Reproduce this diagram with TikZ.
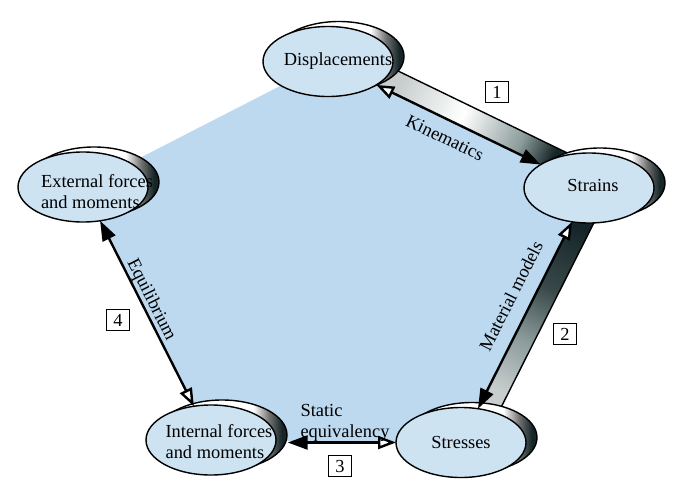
\documentclass[tikz,border=0pt]{standalone}
\usepackage{fontspec}
\setmainfont{Liberation Serif}
\usetikzlibrary{arrows.meta,shapes.geometric}
\definecolor{pentblue}{RGB}{189,217,240}
\definecolor{ellblue}{RGB}{205,227,242}
\definecolor{deepteal}{RGB}{22,38,40}
\definecolor{midteal}{RGB}{140,155,155}
\definecolor{paleteal}{RGB}{200,206,206}
\pgfdeclarehorizontalshading{bandone}{100bp}{color(0bp)=(paleteal); color(38bp)=(paleteal);
  color(50bp)=(white); color(61bp)=(midteal); color(67bp)=(deepteal); color(100bp)=(deepteal)}
\pgfdeclarehorizontalshading{bandtwo}{100bp}{color(0bp)=(deepteal); color(32bp)=(deepteal);
  color(44bp)=(deepteal!70!midteal); color(54bp)=(midteal); color(64bp)=(paleteal); color(100bp)=(paleteal!70!white)}
\pgfdeclarehorizontalshading{rimshade}{100bp}{color(0bp)=(white); color(62bp)=(white);
  color(68bp)=(black!55); color(73bp)=(deepteal); color(100bp)=(deepteal)}

\begin{document}
\begin{tikzpicture}[x=0.5pt,y=-0.5pt,font=\fontsize{9.2}{10.5}\selectfont,
  ell/.style={ellipse,draw,line width=.7pt,fill=ellblue,minimum width=65pt,minimum height=35pt,inner sep=0pt,outer sep=0pt},
  rim/.style={ellipse,draw,line width=.7pt,shade,shading=rimshade,minimum width=65pt,minimum height=35pt,inner sep=0pt},
  rel/.style={line width=1.2pt,{Triangle[open,fill=white,length=9pt,width=6.5pt]}-{Triangle[length=10pt,width=7pt]}},
  numbox/.style={draw,line width=.5pt,minimum width=11.5pt,minimum height=10.5pt,inner sep=0pt}]
\useasboundingbox (0,0) rectangle (685,493);
% centres of the five ellipses
\coordinate (pd) at (328,61.5);
\coordinate (ps) at (589,188);
\coordinate (pr) at (461,442.5);
\coordinate (pi) at (211,440);
\coordinate (pe) at (83,187);
% blue pentagon
\fill[pentblue] (pd) -- (ps) -- (pr) -- (pi) -- (pe) -- cycle;
% shaded bands behind arrows 1 and 2
\begin{scope}[transform canvas={shift={(pd)},rotate=-25.85}]
  \shade[shading=bandone] (0pt,0pt) rectangle (145pt,11pt);
  \draw[line width=.7pt] (0pt,11pt) -- (145pt,11pt);
\end{scope}
\begin{scope}[transform canvas={shift={(ps)},rotate=-116.7}]
  \shade[shading=bandtwo] (0pt,0pt) rectangle (142.4pt,10pt);
  \draw[line width=.7pt] (0pt,10pt) -- (142.4pt,10pt);
\end{scope}
% shadow ellipses
\node[rim] (dispsh)   at ([shift={(5.5pt,2.5pt)}]pd) {};
\node[rim] (strainsh) at ([shift={(5.5pt,2.5pt)}]ps) {};
\node[rim] (stresssh) at ([shift={(5.5pt,2.5pt)}]pr) {};
\node[rim] (intsh)    at ([shift={(5.5pt,2.5pt)}]pi) {};
\node[rim] (extsh)    at ([shift={(5.5pt,2.5pt)}]pe) {};
% ellipses
\node[ell] (disp)   at (pd) {};
\node[ell] (strain) at (ps) {};
\node[ell] (stress) at (pr) {};
\node[ell] (int)    at (pi) {};
\node[ell] (ext)    at (pe) {};
\node (tdisp)   at ([xshift=5pt]disp) {Displacements};
\node (tstrain) at ([shift={(2pt,1.5pt)}]strain) {Strains};
\node (tstress) at (stress) {Stresses};
\node[align=left] (tint) at ([shift={(4pt,-1pt)}]int) {Internal forces\\and moments};
\node[align=left] (text) at ([shift={(7pt,-2.5pt)}]ext) {External forces\\and moments};
% relations
\draw[rel] (disp) -- (strain);
\draw[rel] (strain) -- (stress);
\draw[rel] (stress.west) -- (stress.west -| intsh.east);
\draw[rel] (int) -- (ext);
\node[rotate=-25.85] (kin) at (445,138) {Kinematics};
\node[rotate=63.3] (mat) at (511,296) {Material models};
\node[rotate=-63.3] (equ) at (151,300) {Equilibrium};
\node[align=left] (sta) at (345,423) {Static\\equivalency};
\node[numbox] (n1) at (497,92) {1};
\node[numbox] (n2) at (565,334) {2};
\node[numbox] (n3) at (340,466) {3};
\node[numbox] (n4) at (118,320) {4};
\end{tikzpicture}
\end{document}
